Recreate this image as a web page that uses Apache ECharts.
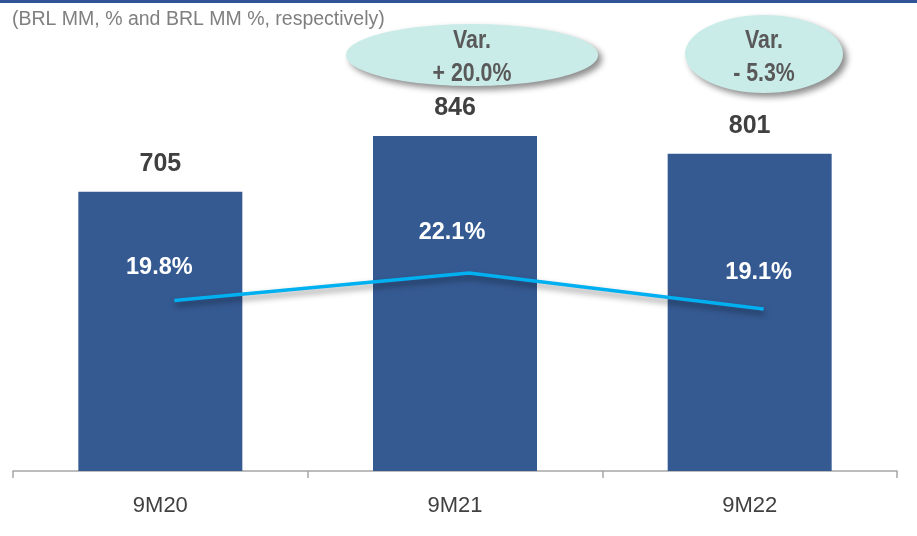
<!DOCTYPE html>
<html>
<head>
<meta charset="utf-8">
<script src="https://cdn.jsdelivr.net/npm/echarts@6/dist/echarts.min.js"></script>
<style>
  html, body { margin: 0; padding: 0; background: #fff; }
  #chart { width: 917px; height: 536px; }
</style>
</head>
<body>
<div id="chart"></div>
<script>
// data
var periods = ['9M20', '9M21', '9M22'];
var values = [705, 846, 801];          // BRL MM
var margins = [19.8, 22.1, 19.1];      // %
var varTexts = ['Var.\n+ 20.0%', 'Var.\n- 5.3%'];
var subtitle = '(BRL MM, % and BRL MM %, respectively)';

var font = "'Liberation Sans', Arial, sans-serif";

// label offsets for the margin line (the text sits a bit left of the point)
var marginOffsets = [[-15, -33], [-17, -40], [-5, -36]];

var chart = echarts.init(document.getElementById('chart'));

var option = {
  animation: false,
  title: {
    text: subtitle,
    left: 12,
    top: 10,
    padding: 0,
    textStyle: { fontFamily: font, fontSize: 19.5, fontWeight: 'normal', color: '#7f7f7f' }
  },
  grid: [
    { left: 13, right: 20, top: 75, bottom: 65 },
    { left: 27, right: 6, top: 75, bottom: 65 }
  ],
  xAxis: [
    {
      type: 'category',
      gridIndex: 0,
      data: periods,
      axisLine: { lineStyle: { color: '#a6a6a6', width: 1.5 } },
      axisTick: { show: true, length: 7, lineStyle: { color: '#a6a6a6', width: 1.5 } },
      axisLabel: { fontFamily: font, fontSize: 22, color: '#404040', margin: 24 }
    },
    { type: 'category', gridIndex: 1, data: periods, show: false }
  ],
  yAxis: [
    { type: 'value', gridIndex: 0, min: 0, max: 1000, show: false },
    { type: 'value', gridIndex: 1, min: 5.6, max: 38.6, show: false }
  ],
  series: [
    {
      type: 'bar',
      xAxisIndex: 0,
      yAxisIndex: 0,
      data: values,
      barWidth: 164,
      itemStyle: { color: '#355a92' },
      label: {
        show: true,
        position: 'top',
        distance: 15,
        fontFamily: font,
        fontSize: 25,
        fontWeight: 'bold',
        color: '#404040'
      }
    },
    {
      type: 'line',
      xAxisIndex: 1,
      yAxisIndex: 1,
      data: margins.map(function (v, i) {
        return { value: v, label: { offset: marginOffsets[i] } };
      }),
      symbol: 'circle',
      symbolSize: 1,
      showSymbol: true,
      lineStyle: {
        color: '#00b0f0',
        width: 3.5,
        shadowColor: 'rgba(0,0,0,0.45)',
        shadowBlur: 6,
        shadowOffsetY: 4,
        shadowOffsetX: 1
      },
      itemStyle: { color: 'transparent', borderWidth: 0 },
      label: {
        show: true,
        position: 'inside',
        fontFamily: font,
        fontSize: 23.5,
        fontWeight: 'bold',
        color: '#ffffff',
        formatter: function (p) { return p.value.toFixed(1) + '%'; }
      }
    }
  ],
  graphic: [
    { type: 'rect', left: 0, top: 0, shape: { width: 917, height: 3 }, style: { fill: '#2f5597' }, z: 10 },
    {
      type: 'ellipse',
      shape: { cx: 472, cy: 55, rx: 126, ry: 31 },
      style: { fill: '#c9ece8', shadowBlur: 6, shadowOffsetX: 4, shadowOffsetY: 4, shadowColor: 'rgba(0,0,0,0.45)' },
      z: 10
    },
    {
      type: 'text',
      x: 472, y: 57, scaleX: 0.82,
      style: {
        text: varTexts[0], fill: '#595959', align: 'center', verticalAlign: 'middle',
        font: 'bold 26px ' + font, lineHeight: 33
      },
      z: 11
    },
    {
      type: 'ellipse',
      shape: { cx: 764, cy: 54, rx: 79, ry: 39 },
      style: { fill: '#c9ece8', shadowBlur: 6, shadowOffsetX: 4, shadowOffsetY: 4, shadowColor: 'rgba(0,0,0,0.45)' },
      z: 10
    },
    {
      type: 'text',
      x: 764, y: 57, scaleX: 0.82,
      style: {
        text: varTexts[1], fill: '#595959', align: 'center', verticalAlign: 'middle',
        font: 'bold 26px ' + font, lineHeight: 33
      },
      z: 11
    }
  ]
};

chart.setOption(option);
</script>
</body>
</html>
